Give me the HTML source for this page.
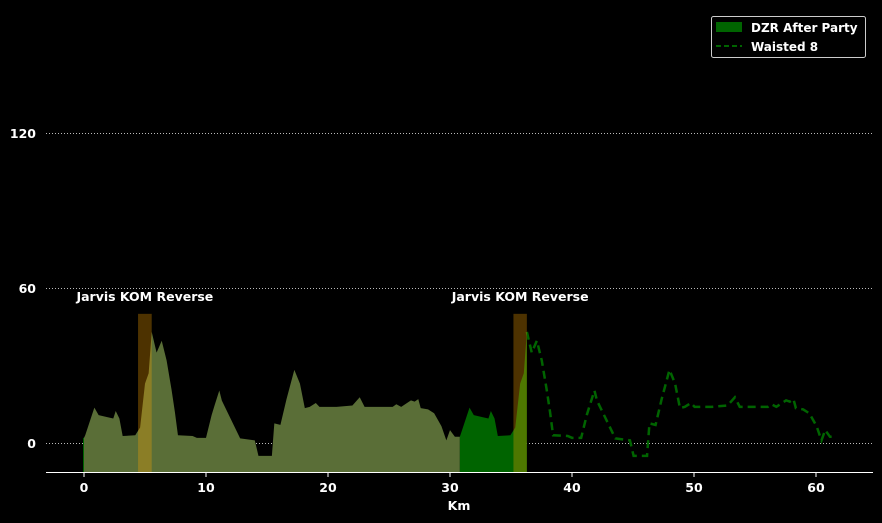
<!DOCTYPE html>
<html><head><meta charset="utf-8"><style>
html,body{margin:0;padding:0;background:#000;}
svg{display:block;font-family:"DejaVu Sans","Liberation Sans",sans-serif;}
</style></head><body>
<svg id="chart" width="882" height="523" xmlns="http://www.w3.org/2000/svg">
<rect width="882" height="523" fill="#000"/>
<g id="grid"></g>
<g id="marks"></g>
<g id="axes"></g>
<g>
<rect x="711.5" y="16.5" width="154" height="41" rx="2" fill="#000" stroke="#ccc" stroke-width="1"/>
<rect x="716" y="22" width="26" height="10" fill="#006400"/>
<text x="751" y="32" fill="#fff" font-size="12" font-weight="bold">DZR After Party</text>
<line x1="716" y1="46" x2="742" y2="46" stroke="#006400" stroke-width="2" stroke-dasharray="5,3"/>
<text x="751" y="51" fill="#fff" font-size="12" font-weight="bold">Waisted 8</text>
</g>
</svg>
<script>
const profileKm=[0,0.1,0.85,1.2,1.9,2.4,2.6,2.9,3.17,4.2,4.6,5.0,5.3,5.55,5.95,6.37,6.77,7.18,7.45,7.7,8.9,9.25,10.0,10.46,10.7,11.09,11.3,12.8,14.0,14.3,15.4,15.6,16.1,16.6,17.24,17.7,18.1,18.5,19.0,19.3,20.7,22.0,22.6,23.0,25.3,25.6,26.0,26.8,27.1,27.4,27.6,28.2,28.7,29.3,29.7,30.0,30.4,30.8];
const profileElev=[2,3,13.7,10.8,10,9.5,12.4,9.5,2.7,3,6,23,27,43,35,39.6,32,20.5,12,3,2.7,2,2,10.8,14.5,20.3,16.4,1.8,1,-5,-5,7.6,7,17,28.3,23,13.5,14,15.5,14,14,14.5,17.7,14,14,15,14,16.5,16,17,13.5,13,11.5,6.5,1,5,2.4,2.4];
const lapOffset=30.75;
const dzrEndKm=36.3;
const segments=[[4.43,5.55],[35.2,36.3]];
const segmentTop=50;
const segmentLabels=["Jarvis KOM Reverse","Jarvis KOM Reverse"];
const yTicks=[0,60,120];
const xTicks=[0,10,20,30,40,50,60];

const X0=84,PXKM=12.2,Y0=443,PXU=155/60,BOT=472;
const sx=k=>X0+k*PXKM, sy=v=>Y0-v*PXU;
const NS="http://www.w3.org/2000/svg";
function mk(tag,attrs,parent){const e=document.createElementNS(NS,tag);for(const k in attrs)e.setAttribute(k,attrs[k]);parent.appendChild(e);return e;}
const grid=document.getElementById('grid'),marks=document.getElementById('marks'),axes=document.getElementById('axes');

yTicks.forEach(t=>{
 const l=mk('line',{x1:46,x2:873,y1:sy(t)+0.5,y2:sy(t)+0.5,stroke:'#bbb','stroke-width':1,'stroke-dasharray':'1,2'},grid);
 
 
 const tx=mk('text',{x:36,y:sy(t)+5,fill:'#fff','font-size':12.5,'font-weight':'bold','text-anchor':'end'},axes);
 tx.textContent=t;
 
 
});

function interp(k){
 for(let i=0;i<profileKm.length-1;i++){if(k>=profileKm[i]&&k<=profileKm[i+1]){const f=(k-profileKm[i])/(profileKm[i+1]-profileKm[i]);return profileElev[i]+f*(profileElev[i+1]-profileElev[i]);}}
 return profileElev[profileElev.length-1];
}
let lap2=[[profileKm[profileKm.length-1],interp(30.8)]];
profileKm.forEach((k,i)=>{const kk=k+lapOffset;if(kk>30.8&&kk<dzrEndKm)lap2.push([kk,profileElev[i]]);});
lap2.push([dzrEndKm,interp(dzrEndKm-lapOffset)]);
let d='M'+sx(lap2[0][0])+','+BOT+lap2.map(p=>' L'+sx(p[0])+','+sy(p[1])).join('')+' L'+sx(dzrEndKm)+','+BOT+'Z';
const g2=mk('path',{d:d,fill:'#006400'},marks);


const ge=mk('rect',{x:sx(0)-1,y:sy(profileElev[0]),width:2,height:BOT-sy(profileElev[0]),fill:'#006400'},marks);


d='M'+sx(profileKm[0])+','+BOT+profileKm.map((k,i)=>' L'+sx(k)+','+sy(profileElev[i])).join('')+' L'+sx(profileKm[profileKm.length-1])+','+BOT+'Z';
const o=mk('path',{d:d,fill:'#5a6e37'},marks);


let wp=[[dzrEndKm,interp(dzrEndKm-lapOffset)]];
profileKm.forEach((k,i)=>{const kk=k+lapOffset;if(kk>dzrEndKm)wp.push([kk,profileElev[i]]);});
const w=mk('polyline',{points:wp.map(p=>sx(p[0])+','+sy(p[1])).join(' '),fill:'none',stroke:'#006400','stroke-width':2.5,'stroke-dasharray':'8,5'},marks);


segments.forEach((s,i)=>{
 const r=mk('rect',{x:sx(s[0]),y:sy(segmentTop),width:sx(s[1])-sx(s[0]),height:BOT-sy(segmentTop),fill:'rgba(255,165,0,0.3)'},marks);
 
 
 const t=mk('text',{x:(sx(s[0])+sx(s[1]))/2,y:301,fill:'#fff','font-size':12.5,'font-weight':'bold','text-anchor':'middle'},marks);
 t.textContent=segmentLabels[i];
 
 
});
const ax=mk('line',{x1:46,x2:873,y1:BOT+0.5,y2:BOT+0.5,stroke:'#fff','stroke-width':1},axes);


xTicks.forEach(t=>{
 const l=mk('line',{x1:sx(t),x2:sx(t),y1:BOT,y2:BOT+5,stroke:'#fff'},axes);
 
 
 const tx=mk('text',{x:sx(t),y:BOT+20,fill:'#fff','font-size':12.5,'font-weight':'bold','text-anchor':'middle'},axes);
 tx.textContent=t;
 
 
});
const xl=mk('text',{x:459,y:510,fill:'#fff','font-size':12.5,'font-weight':'bold','text-anchor':'middle'},axes);
xl.textContent='Km';


</script>
</body></html>
